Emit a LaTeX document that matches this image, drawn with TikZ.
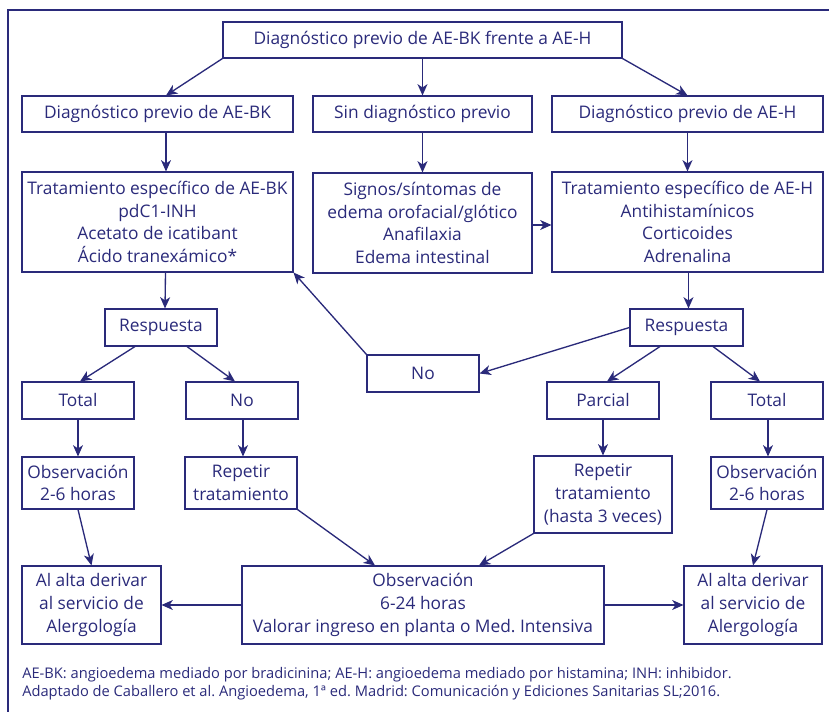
\documentclass[tikz,border=0pt]{standalone}
\usepackage{fontspec}
\setmainfont{Open Sans}
\frenchspacing
\usetikzlibrary{arrows.meta,calc}
\definecolor{navy}{RGB}{42,42,122}
\begin{document}
\begin{tikzpicture}[x=0.75pt,y=-0.75pt,
  box/.style={draw=navy, line width=0.8pt, text=navy, inner sep=0pt, align=center,
    font=\fontsize{13}{17}\selectfont},
  sz/.style 2 args={minimum width=#1*0.75pt, minimum height=#2*0.75pt},
  arr/.style={draw=navy, line width=1pt, -{Stealth[length=8.5pt,width=7.5pt,inset=2.5pt]}},
  foot/.style={text=navy, inner sep=0pt, font=\fontsize{11}{12}\selectfont}
]
\clip (0,0) rectangle (829,712);
\draw[navy, line width=1.6pt] (8,10) rectangle (840,730);

% row 1
\node[box, sz={399}{36}] (top) at (422.5,40) {Diagnóstico previo de AE-BK frente a AE-H};
% row 2
\node[box, sz={271}{36}] (bk) at (157.5,114) {Diagnóstico previo de AE-BK};
\node[box, sz={219}{36}] (sin) at (422.5,114) {Sin diagnóstico previo};
\node[box, sz={271}{36}] (h) at (687.5,114) {Diagnóstico previo de AE-H};
% row 3
\node[box, sz={271}{100}] (tbk) at (157.5,222) {Tratamiento específico de AE-BK\\pdC1-INH\\Acetato de icatibant\\Ácido tranexámico*};
\node[box, sz={219}{100}] (sig) at (422.5,223) {Signos/síntomas de\\edema orofacial/glótico\\Anafilaxia\\Edema intestinal};
\node[box, sz={271}{100}] (th) at (687.5,222) {Tratamiento específico de AE-H\\Antihistamínicos\\Corticoides\\Adrenalina};
% respuesta
\node[box, sz={112}{37}] (resL) at (161,327.5) {Respuesta};
\node[box, sz={113}{37}] (resR) at (686.5,327.5) {Respuesta};
\node[box, sz={112}{37}] (noM) at (423,373.5) {No};
% row 5
\node[box, sz={112}{37}] (totL) at (78,400.5) {Total};
\node[box, sz={112}{37}] (noL) at (242,400.5) {No};
\node[box, sz={112}{37}] (par) at (603,400.5) {Parcial};
\node[box, sz={112}{37}] (totR) at (767,400.5) {Total};
% row 6
\node[box, sz={112}{52}] (obsL) at (78,483) {Observación\\2-6 horas};
\node[box, sz={112}{52}] (repL) at (241,483) {Repetir\\tratamiento};
\node[box, sz={138}{77}] (repR) at (603,494.5) {Repetir\\tratamiento\\(hasta 3 veces)};
\node[box, sz={112}{52}] (obsR) at (767,483) {Observación\\2-6 horas};
% row 7
\node[box, sz={139}{78}] (altL) at (91.5,605) {Al alta derivar\\al servicio de\\Alergología};
\node[box, sz={362}{78}] (obs) at (423,605) {Observación\\6-24 horas\\Valorar ingreso en planta o Med. Intensiva};
\node[box, sz={138}{78}] (altR) at (753,605) {Al alta derivar\\al servicio de\\Alergología};

% footnotes
\node[foot, anchor=base west] (fn1) at (22,679) {AE-BK: angioedema mediado por bradicinina; AE-H: angioedema mediado por histamina; INH: inhibidor.};
\node[foot, anchor=base west] (fn2) at (22,697) {Adaptado de Caballero et al. Angioedema, 1ª ed. Madrid: Comunicación y Ediciones Sanitarias SL;2016.};

% arrows
\draw[arr] (top.south west) -- ($(bk.north)+(8.5,0)$);
\draw[arr] (top.south) -- (sin.north);
\draw[arr] (top.south east) -- (h.north);
\draw[arr] ($(bk.south)+(8.5,0)$) -- ($(tbk.north)+(8.5,0)$);
\draw[arr] (sin.south) -- (sig.north);
\draw[arr] (h.south) -- (th.north);
\draw[arr] ($(sig.east)+(0,2)$) -- ($(sig.east -| th.west)+(0,2)$);
\draw[arr] ($(tbk.south)+(8,0)$) -- ($(resL.north)+(4,0)$);
\draw[arr] ($(resL.south)+(-26,0)$) -- ($(totL.north)+(2,0)$);
\draw[arr] ($(resL.south)+(26,0)$) -- ($(noL.north)+(-7,0)$);
\draw[arr] (totL.south) -- (obsL.north);
\draw[arr] ($(noL.south)+(1,0)$) -- ($(repL.north)+(2,0)$);
\draw[arr] (noM.north west) -- (tbk.south east);
\draw[arr] (resR.west) -- (noM.east);
\draw[arr] ($(th.south)+(1,0)$) -- ($(resR.north)+(2,0)$);
\draw[arr] ($(resR.south)+(-26.5,0)$) -- ($(par.north)+(4,0)$);
\draw[arr] ($(resR.south)+(26.5,0)$) -- ($(totR.north)+(-7,0)$);
\draw[arr] (par.south) -- (repR.north);
\draw[arr] ($(totR.south)+(1,0)$) -- ($(obsR.north)+(1,0)$);
\draw[arr] (obsL.south) -- (altL.north);
\draw[arr] (repL.south east) -- ($(obs.north)+(-48,0)$);
\draw[arr] (repR.south west) -- ($(obs.north)+(56,0)$);
\draw[arr] (obsR.south) -- (altR.north);
\draw[arr] (obs.west) -- (altL.east);
\draw[arr] (obs.east) -- (altR.west);
\end{tikzpicture}
\end{document}
